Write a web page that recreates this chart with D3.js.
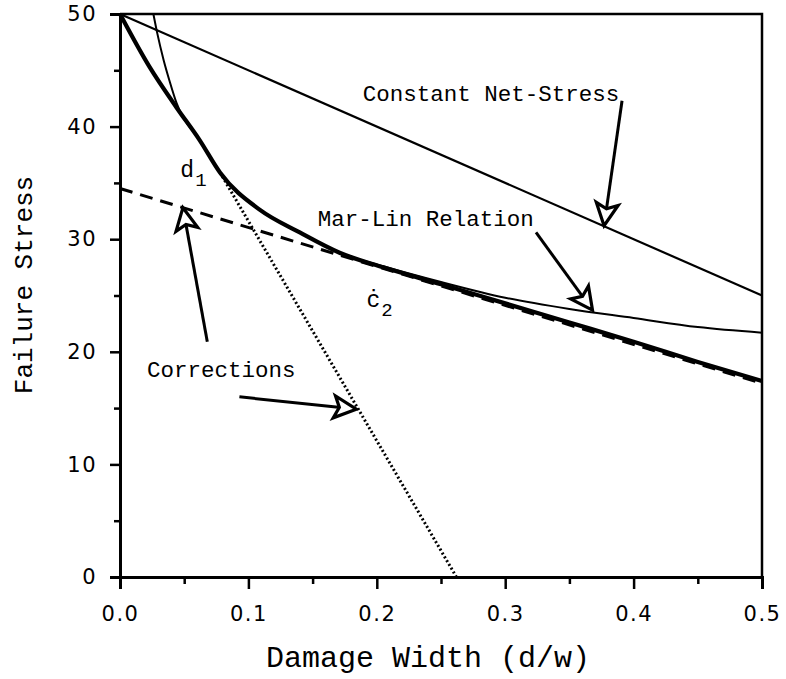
<!DOCTYPE html>
<html lang="en">
<head>
    <meta charset="UTF-8">
    <title>Failure Stress vs Damage Width</title>
    <script src="https://d3js.org/d3.v7.min.js"></script>
    <style>
        body { margin: 0; background: #fff; }
        .tick text { font-family: "DejaVu Sans", sans-serif; font-size: 21px; fill: #000; }
        .mono { font-family: "Liberation Mono", "DejaVu Sans Mono", monospace; fill: #000; }
    </style>
</head>
<body>
    <svg width="786" height="679"></svg>
    <script>
        // curves (d/w, stress)
        const netStressX = [0, 0.5];
        const netStressY = [50, 25];

        const marLinX = [0.026, 0.029, 0.034, 0.039, 0.044, 0.062, 0.078, 0.109, 0.14, 0.171, 0.205, 0.25, 0.3, 0.35, 0.4, 0.45, 0.5];
        const marLinY = [50, 48.3, 45.9, 43.9, 42.1, 38.8, 35.9, 32.6, 30.6, 28.8, 27.6, 26.2, 24.8, 23.8, 23.0, 22.2, 21.7];

        const failureX = [0, 0.023, 0.044, 0.062, 0.078, 0.109, 0.14, 0.171, 0.205, 0.25, 0.3, 0.35, 0.4, 0.45, 0.5];
        const failureY = [50, 45.3, 41.7, 38.8, 35.9, 32.6, 30.6, 28.8, 27.5, 26.0, 24.3, 22.6, 20.9, 19.1, 17.4];

        const dashedX = [0, 0.5];
        const dashedY = [34.5, 17.2];

        const dottedX = [0.078, 0.262];
        const dottedY = [35.9, 0];

        const xTicks = [0, 0.1, 0.2, 0.3, 0.4, 0.5];
        const xMinor = [0.05, 0.15, 0.25, 0.35, 0.45];
        const yTicks = [0, 10, 20, 30, 40, 50];
        const yMinor = [5, 15, 25, 35, 45];

        const svg = d3.select('svg');
        const x = d3.scaleLinear().domain([0, 0.5]).range([120, 762]);
        const y = d3.scaleLinear().domain([0, 50]).range([577, 14]);

        const zip = (xs, ys) => xs.map((v, i) => [v, ys[i]]);
        const line = d3.line().x(d => x(d[0])).y(d => y(d[1]));
        const curve = d3.line().x(d => x(d[0])).y(d => y(d[1])).curve(d3.curveMonotoneX);

        // frame top and right
        svg.append('path')
            .attr('d', line([[0, 50], [0.5, 50], [0.5, 0]]))
            .attr('fill', 'none').attr('stroke', '#000').attr('stroke-width', 2.5);

        // axes
        svg.append('g').attr('transform', `translate(0,${y(0)})`)
            .call(d3.axisBottom(x).tickValues(xTicks).tickFormat(d3.format('.1f')).tickSize(12).tickPadding(17));
        svg.append('g').attr('transform', `translate(0,${y(0)})`)
            .call(d3.axisBottom(x).tickValues(xMinor).tickFormat('').tickSize(7));
        svg.append('g').attr('transform', `translate(${x(0)},0)`)
            .call(d3.axisLeft(y).tickValues(yTicks).tickFormat(d3.format('d')).tickSize(10).tickPadding(13));
        svg.append('g').attr('transform', `translate(${x(0)},0)`)
            .call(d3.axisLeft(y).tickValues(yMinor).tickFormat('').tickSize(6));
        svg.selectAll('.domain').attr('stroke', '#000').attr('stroke-width', 3);
        svg.selectAll('.tick line').attr('stroke', '#000').attr('stroke-width', 2.5);
        svg.selectAll('.tick text').attr('letter-spacing', 1.5);

        // series
        svg.append('path').attr('d', line(zip(netStressX, netStressY)))
            .attr('fill', 'none').attr('stroke', '#000').attr('stroke-width', 2.2);
        svg.append('path').attr('d', line(zip(dashedX, dashedY)))
            .attr('fill', 'none').attr('stroke', '#000').attr('stroke-width', 3)
            .attr('stroke-dasharray', '13,8');
        svg.append('path').attr('d', line(zip(dottedX, dottedY)))
            .attr('fill', 'none').attr('stroke', '#000').attr('stroke-width', 3)
            .attr('stroke-dasharray', '2,2.4');
        svg.append('path').attr('d', curve(zip(marLinX, marLinY)))
            .attr('fill', 'none').attr('stroke', '#000').attr('stroke-width', 2);
        svg.append('path').attr('d', curve(zip(failureX, failureY)))
            .attr('fill', 'none').attr('stroke', '#000').attr('stroke-width', 4.2);

        // annotations
        const labels = [
            { t: 'Constant Net-Stress', d: 0.189, s: 42.3 },
            { t: 'Mar-Lin Relation', d: 0.154, s: 31.2 },
            { t: 'Corrections', d: 0.021, s: 17.8 }
        ];
        svg.selectAll('.ann').data(labels).enter().append('text')
            .attr('class', 'mono ann')
            .attr('x', d => x(d.d)).attr('y', d => y(d.s))
            .attr('font-size', 22.5)
            .text(d => d.t);

        const subs = [
            { t: 'd', sub: '1', d: 0.047, s: 35.5 },
            { t: 'ċ', sub: '2', d: 0.192, s: 24.0 }
        ];
        subs.forEach(p => {
            const t = svg.append('text').attr('class', 'mono').attr('font-size', 23)
                .attr('x', x(p.d)).attr('y', y(p.s));
            t.append('tspan').text(p.t);
            t.append('tspan').attr('dy', 9).attr('font-size', 19).attr('dx', 1).text(p.sub);
        });

        // arrows: start -> tip, open triangular heads
        const arrows = [
            { x0: 0.391, y0: 42.3, x1: 0.377, y1: 31.2 },
            { x0: 0.324, y0: 30.6, x1: 0.368, y1: 23.7 },
            { x0: 0.068, y0: 20.9, x1: 0.049, y1: 32.8 },
            { x0: 0.093, y0: 16.0, x1: 0.184, y1: 14.9 }
        ];
        arrows.forEach(a => {
            const sx = x(a.x0), sy = y(a.y0), tx = x(a.x1), ty = y(a.y1);
            const len = Math.hypot(tx - sx, ty - sy);
            const ux = (tx - sx) / len, uy = (ty - sy) / len;
            const hl = 22, hw = 11;
            const bx = tx - ux * hl, by = ty - uy * hl;
            svg.append('line').attr('x1', sx).attr('y1', sy).attr('x2', bx + ux * 4).attr('y2', by + uy * 4)
                .attr('stroke', '#000').attr('stroke-width', 3);
            svg.append('path')
                .attr('d', `M${tx},${ty}L${bx - uy * hw},${by + ux * hw}L${bx + ux * 5},${by + uy * 5}L${bx + uy * hw},${by - ux * hw}Z`)
                .attr('fill', '#fff').attr('stroke', '#000').attr('stroke-width', 3.2).attr('stroke-linejoin', 'miter');
        });

        // axis titles
        svg.append('text').attr('class', 'mono')
            .attr('x', 428).attr('y', 667).attr('text-anchor', 'middle')
            .attr('font-size', 30).text('Damage Width (d/w)');
        svg.append('text').attr('class', 'mono')
            .attr('transform', 'translate(32,285) rotate(-90)').attr('text-anchor', 'middle')
            .attr('font-size', 26).text('Failure Stress');
    </script>
</body>
</html>
